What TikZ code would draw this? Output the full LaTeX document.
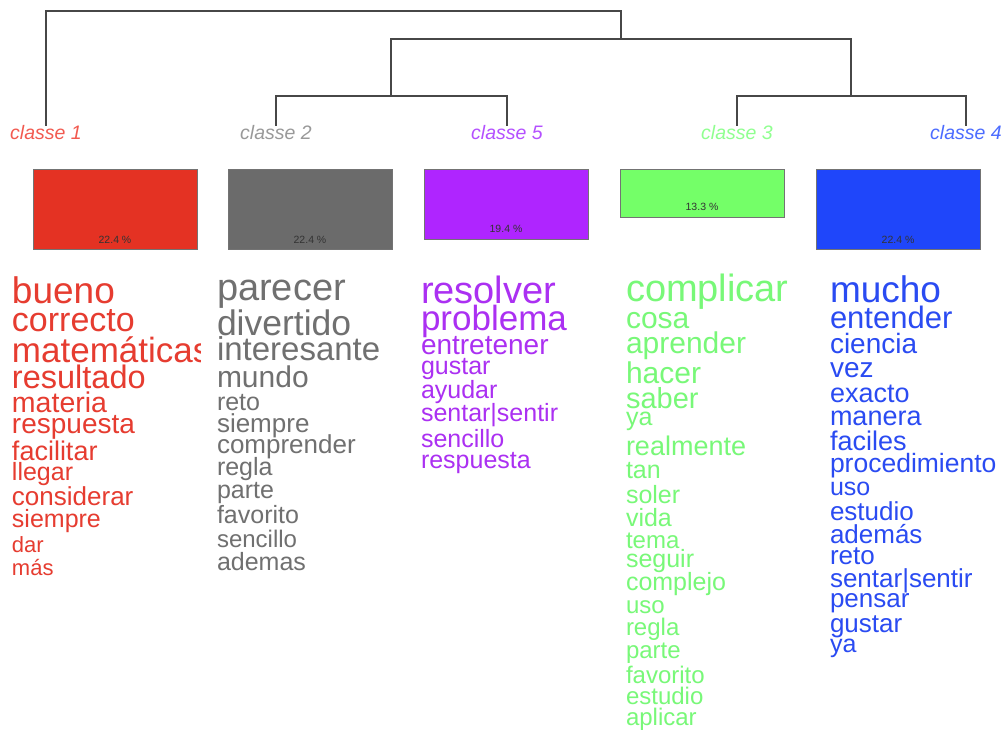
\documentclass[tikz,border=0pt]{standalone}
\usepackage{fontspec}
\setmainfont{Liberation Sans}
\definecolor{wred}{HTML}{E63C30}
\definecolor{wgray}{HTML}{707070}
\definecolor{wpur}{HTML}{AB30F2}
\definecolor{wgrn}{HTML}{78F878}
\definecolor{wblu}{HTML}{2A4BF2}
\definecolor{bred}{HTML}{E43223}
\definecolor{bgray}{HTML}{6B6B6B}
\definecolor{bpur}{HTML}{AF25FF}
\definecolor{bgrn}{HTML}{74FF68}
\definecolor{bblu}{HTML}{1F46FA}
\definecolor{lred}{HTML}{F25A50}
\definecolor{lgray}{HTML}{999999}
\definecolor{lpur}{HTML}{B450FF}
\definecolor{lgrn}{HTML}{90FF90}
\definecolor{lblu}{HTML}{4C6CFF}
\begin{document}
\begin{tikzpicture}[x=1pt,y=-1pt,
  word/.style={anchor=base west, inner sep=0pt, outer sep=0pt},
  clabel/.style={inner sep=0pt, outer sep=0pt, font=\fontsize{19.5}{19.5}\selectfont\itshape},
  dendro/.style={draw=black!72, line width=1.4pt},
  pbox/.style={draw=black!55, line width=0.7pt, inner sep=0pt, minimum width=164pt, anchor=north west},
  pct/.style={inner sep=0pt, font=\fontsize{10.5}{10.5}\selectfont, text=black!80}]
\useasboundingbox[fill=white] (0,0) rectangle (1002,734);

% class labels
\node[clabel,text=lred]  (l1) at (46,133)  {classe 1};
\node[clabel,text=lgray] (l2) at (276,133) {classe 2};
\node[clabel,text=lpur]  (l5) at (507,133) {classe 5};
\node[clabel,text=lgrn]  (l3) at (737,133) {classe 3};
\node[clabel,text=lblu]  (l4) at (966,133) {classe 4};

% dendrogram
\coordinate (root) at (621,11);
\coordinate (n1) at (621,39);
\coordinate (n2) at (391,96);
\coordinate (n3) at (851,96);
\draw[dendro] (l1.north) |- (root) -- (n1);
\draw[dendro] (n2) |- (n1) -| (n3);
\draw[dendro] (l2.north) |- (n2) -| (l5.north);
\draw[dendro] (l3.north) |- (n3) -| (l4.north);

% boxes
\node[pbox, fill=bred,  minimum height=80pt] (b1) at (33,169)  {};
\node[pbox, fill=bgray, minimum height=80pt] (b2) at (228,169) {};
\node[pbox, fill=bpur,  minimum height=70pt] (b5) at (424,169) {};
\node[pbox, fill=bgrn,  minimum height=48pt] (b3) at (620,169) {};
\node[pbox, fill=bblu,  minimum height=80pt] (b4) at (816,169) {};
\node[pct] (p1) at (115,240) {22.4 \%};
\node[pct] (p2) at (310,240) {22.4 \%};
\node[pct] (p5) at (506,229) {19.4 \%};
\node[pct] (p3) at (702,207) {13.3 \%};
\node[pct] (p4) at (898,240) {22.4 \%};

% class 1 words
\begin{scope}
\clip (0,250) rectangle (200,734);
\foreach \w/\s/\b [count=\i] in {bueno/37/303, correcto/34/331, matemáticas/35/362, resultado/32.5/388, materia/28.5/412, respuesta/28/433, facilitar/27/460, llegar/25/480, considerar/26/505, siempre/25/527, dar/22/552, más/22/575}
  \node[word, text=wred, font=\fontsize{\s}{\s}\selectfont] (r\i) at (12,\b) {\w};
\end{scope}

% class 2 words
\foreach \w/\s/\b [count=\i] in {parecer/38/300, divertido/35.5/335, interesante/33/360, mundo/30/387, reto/25/410, siempre/26/432, comprender/26/453, regla/25/475, parte/25/498, favorito/25/523, sencillo/24/547, ademas/25/570}
  \node[word, text=wgray, font=\fontsize{\s}{\s}\selectfont] (g\i) at (217,\b) {\w};

% class 5 words
\foreach \w/\s/\b [count=\i] in {resolver/38/303, problema/35/330, entretener/28/354, gustar/25/374, ayudar/25/398, sentar|sentir/25/421, sencillo/25/447, respuesta/25/468}
  \node[word, text=wpur, font=\fontsize{\s}{\s}\selectfont] (v\i) at (421,\b) {\w};

% class 3 words
\foreach \w/\s/\b [count=\i] in {complicar/38/301, cosa/30/328, aprender/30/353, hacer/30/383, saber/29/408, ya/25/425, realmente/27/455, tan/25/478, soler/25/503, vida/25/526, tema/24/548, seguir/25/567, complejo/25/590, uso/24/613, regla/24/635, parte/24/658, favorito/24/683, estudio/24/704, aplicar/24/725}
  \node[word, text=wgrn, font=\fontsize{\s}{\s}\selectfont] (e\i) at (626,\b) {\w};

% class 4 words
\foreach \w/\s/\b [count=\i] in {mucho/37/302, entender/31/328, ciencia/28/353, vez/28/377, exacto/27/402, manera/27/425, faciles/27/450, procedimiento/26.5/472, uso/25/495, estudio/26/520, además/26/543, reto/26/564, sentar|sentir/26/587, pensar/26/607, gustar/26/632, ya/25/652}
  \node[word, text=wblu, font=\fontsize{\s}{\s}\selectfont] (u\i) at (830,\b) {\w};
\end{tikzpicture}
\end{document}
